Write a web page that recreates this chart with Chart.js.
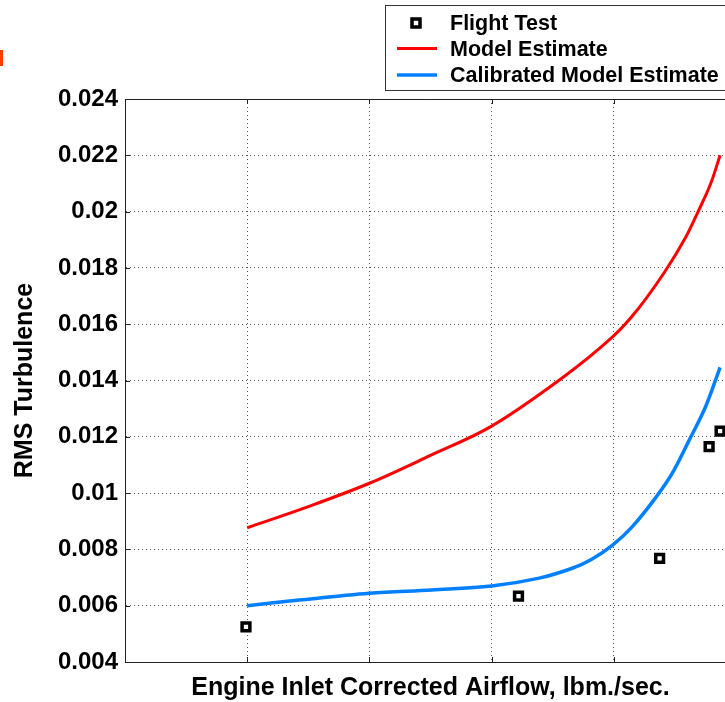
<!DOCTYPE html>
<html>
<head>
<meta charset="utf-8">
<script src="https://cdn.jsdelivr.net/npm/chart.js@4"></script>
<style>
  html, body { margin: 0; padding: 0; background: #fff; overflow: hidden; }
  #wrap { position: relative; width: 725px; height: 702px; overflow: hidden; }
  #mark { position: absolute; left: 0; top: 50px; width: 3px; height: 16px; background: #ff3c00; }
</style>
</head>
<body>
<div id="wrap">
  <canvas id="chart" width="745" height="702"></canvas>
  <div id="mark"></div>
</div>
<script>
// values (x in grid units, 0 = left axis)
const flightX = [0.99, 3.22, 4.375, 4.78, 4.87];
const flightY = [0.00525, 0.00634, 0.00768, 0.01165, 0.0122];

const modelX = [1.0, 1.5, 2.0, 2.5, 3.0, 3.58, 3.99, 4.2, 4.42, 4.585, 4.69, 4.79, 4.87];
const modelY = [0.00877, 0.00952, 0.01035, 0.01134, 0.01238, 0.0141, 0.01555, 0.01655, 0.01788, 0.01906, 0.0200, 0.02096, 0.0220];

const calX = [1.0, 1.425, 2.0, 2.51, 3.0, 3.39, 3.66, 3.82, 3.99, 4.15, 4.34, 4.475, 4.61, 4.75, 4.87];
const calY = [0.0060, 0.0062, 0.00644, 0.00656, 0.0067, 0.00698, 0.00733, 0.00765, 0.00815, 0.0088, 0.00982, 0.01068, 0.01182, 0.01306, 0.01447];

const seriesNames = ['Flight Test', 'Model Estimate', 'Calibrated Model Estimate'];
const yMin = 0.004, yMax = 0.024, yStep = 0.002;
const xMin = 0, xMax = 5;

const pts = (xs, ys) => xs.map((v, i) => ({ x: v, y: ys[i] }));
const FONT = '"Liberation Sans", Arial, sans-serif';

// box frame, inward ticks and legend, the way the original figure has them
const frame = {
  id: 'frame',
  afterDraw(chart) {
    const { ctx, chartArea: a, scales: { x, y } } = chart;
    ctx.save();
    ctx.strokeStyle = '#222';
    ctx.lineWidth = 1;
    ctx.beginPath();
    ctx.moveTo(a.left, a.top + 0.5);
    ctx.lineTo(a.right, a.top + 0.5);
    x.ticks.forEach(t => {
      const px = Math.round(x.getPixelForValue(t.value)) + 0.5;
      ctx.moveTo(px, a.bottom); ctx.lineTo(px, a.bottom - 5);
      ctx.moveTo(px, a.top); ctx.lineTo(px, a.top + 5);
    });
    y.ticks.forEach(t => {
      const py = Math.round(y.getPixelForValue(t.value)) + 0.5;
      ctx.moveTo(a.left, py); ctx.lineTo(a.left + 5, py);
    });
    ctx.stroke();

    // legend
    ctx.fillStyle = '#fff';
    ctx.fillRect(385.5, 5.5, 420, 85);
    ctx.strokeStyle = '#333';
    ctx.strokeRect(385.5, 5.5, 420, 85);

    ctx.lineWidth = 3.5;
    ctx.strokeStyle = '#000';
    ctx.strokeRect(412, 19, 8, 8);
    ctx.fillStyle = '#fff';
    ctx.fillRect(414.5, 21.5, 3, 3);

    ctx.lineWidth = 3;
    ctx.strokeStyle = '#ff0000';
    ctx.beginPath(); ctx.moveTo(397, 48.5); ctx.lineTo(437, 48.5); ctx.stroke();
    ctx.lineWidth = 3.5;
    ctx.strokeStyle = '#0080ff';
    ctx.beginPath(); ctx.moveTo(397, 75); ctx.lineTo(437, 75); ctx.stroke();

    ctx.fillStyle = '#000';
    ctx.font = 'bold 21.5px ' + FONT;
    ctx.textAlign = 'left';
    ctx.textBaseline = 'alphabetic';
    ctx.fillText(seriesNames[0], 450, 30);
    ctx.fillText(seriesNames[1], 450, 56);
    ctx.fillText(seriesNames[2], 450, 82);
    ctx.restore();
  }
};

new Chart(document.getElementById('chart'), {
  type: 'scatter',
  data: {
    datasets: [
      {
        label: seriesNames[1],
        data: pts(modelX, modelY),
        showLine: true,
        borderColor: '#ff0000',
        borderWidth: 3,
        pointRadius: 0,
        tension: 0.35
      },
      {
        label: seriesNames[2],
        data: pts(calX, calY),
        showLine: true,
        borderColor: '#0080ff',
        borderWidth: 3.5,
        pointRadius: 0,
        tension: 0.35
      },
      {
        label: seriesNames[0],
        data: pts(flightX, flightY),
        showLine: false,
        pointStyle: 'rect',
        pointRadius: 5.5,
        borderWidth: 3.5,
        borderColor: '#000',
        backgroundColor: '#fff'
      }
    ]
  },
  options: {
    responsive: false,
    animation: false,
    devicePixelRatio: 1,
    layout: { padding: { top: 99, right: 7.5, left: 0, bottom: 0 } },
    plugins: { legend: { display: false }, tooltip: { enabled: false } },
    scales: {
      x: {
        type: 'linear',
        min: xMin,
        max: xMax,
        afterFit: s => { s.height = 40; },
        ticks: { stepSize: 1, display: false },
        grid: { color: '#555', lineWidth: 1, drawTicks: false },
        border: { color: '#222', width: 1, dash: [1, 3] },
        title: {
          display: true,
          text: 'Engine Inlet Corrected Airflow, lbm./sec.',
          color: '#000',
          font: { family: FONT, size: 25, weight: 'bold', lineHeight: 1 },
          padding: { top: 0, bottom: 1 }
        }
      },
      y: {
        min: yMin,
        max: yMax,
        afterFit: s => { s.width = 125; },
        ticks: {
          stepSize: yStep,
          padding: 7,
          color: '#000',
          font: { family: FONT, size: 24, weight: 'bold' },
          callback: v => String(Number(v.toFixed(3)))
        },
        grid: { color: '#555', lineWidth: 1, drawTicks: false },
        border: { color: '#222', width: 1, dash: [1, 3] },
        title: {
          display: true,
          text: 'RMS Turbulence',
          color: '#000',
          font: { family: FONT, size: 25, weight: 'bold', lineHeight: 1 },
          padding: { top: 13, bottom: 0 }
        }
      }
    }
  },
  plugins: [frame]
});
</script>
</body>
</html>
